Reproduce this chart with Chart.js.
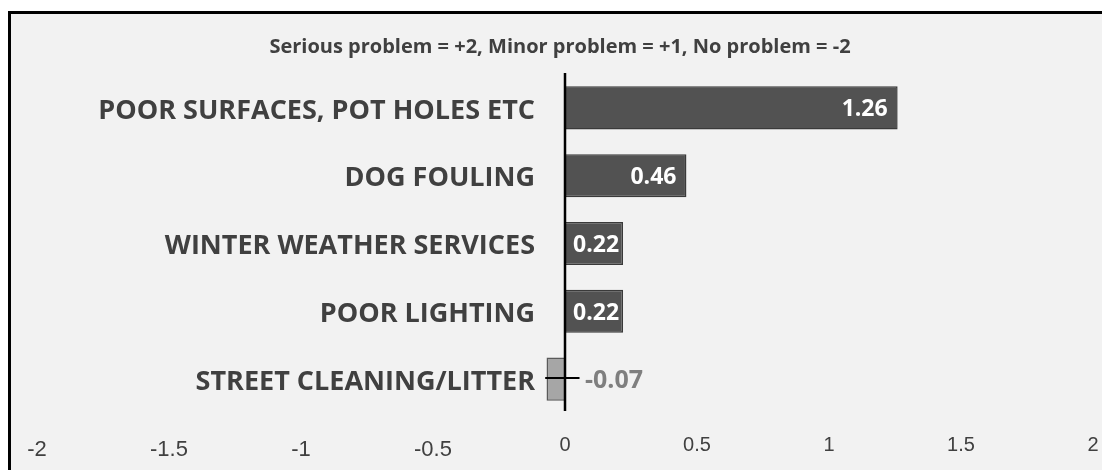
<!DOCTYPE html>
<html lang="en">
<head>
  <meta charset="UTF-8" />
  <title>Problem scores</title>
  <script src="https://cdn.jsdelivr.net/npm/chart.js"></script>
  <style>
    html, body {
      margin: 0;
      background: #ffffff;
      overflow: hidden;
    }
    canvas {
      display: block;
    }
  </style>
</head>
<body>
  <canvas id="chart" width="1102" height="470"></canvas>

  <script>
    const titleText = "Serious problem = +2, Minor problem = +1, No problem = -2";
    const categories = [
      "POOR SURFACES, POT HOLES ETC",
      "DOG FOULING",
      "WINTER WEATHER SERVICES",
      "POOR LIGHTING",
      "STREET CLEANING/LITTER"
    ];
    const scores = [1.26, 0.46, 0.22, 0.22, -0.07];
    // little whisker that sits on the last bar
    const whiskerLow = [null, null, null, null, -0.075];
    const whiskerHigh = [null, null, null, null, 0.055];
    const tickValues = [-2, -1.5, -1, -0.5, 0, 0.5, 1, 1.5, 2];

    const catFont = "bold 27px 'Open Sans', sans-serif";

    // grey panel with the black frame on the left and top
    const panel = {
      id: "panel",
      beforeDraw(chart) {
        const ctx = chart.ctx;
        ctx.save();
        ctx.fillStyle = "#ffffff";
        ctx.fillRect(0, 0, chart.width, chart.height);
        ctx.fillStyle = "#f2f2f2";
        ctx.fillRect(9, 12, chart.width, chart.height);
        ctx.strokeStyle = "#000";
        ctx.lineWidth = 3;
        ctx.beginPath();
        ctx.moveTo(9.5, chart.height + 5);
        ctx.lineTo(9.5, 12.5);
        ctx.lineTo(chart.width + 5, 12.5);
        ctx.stroke();
        ctx.restore();
      }
    };

    // draws title, category names, zero line, ticks, value labels
    const decor = {
      id: "decor",
      afterDatasetsDraw(chart) {
        const ctx = chart.ctx;
        const x = chart.scales.x;
        const y = chart.scales.y;
        const area = chart.chartArea;
        const x0 = x.getPixelForValue(0);
        ctx.save();

        // title
        ctx.fillStyle = "#404040";
        ctx.font = "bold 20px 'Open Sans', sans-serif";
        ctx.textAlign = "center";
        ctx.textBaseline = "middle";
        ctx.fillText(titleText, 560, 47);

        // category names left of the zero line
        ctx.font = catFont;
        ctx.textAlign = "right";
        categories.forEach((c, i) => {
          ctx.fillText(c, x0 - 30, y.getPixelForValue(i) + 3);
        });

        // whiskers
        ctx.strokeStyle = "#000";
        ctx.lineWidth = 2;
        whiskerLow.forEach((lo, i) => {
          if (lo === null) return;
          const yy = y.getPixelForValue(i) - 1;
          ctx.beginPath();
          ctx.moveTo(x.getPixelForValue(lo), yy);
          ctx.lineTo(x.getPixelForValue(whiskerHigh[i]), yy);
          ctx.stroke();
        });

        // zero line
        ctx.lineWidth = 2.5;
        ctx.beginPath();
        ctx.moveTo(x0, area.top - 1);
        ctx.lineTo(x0, area.bottom - 2);
        ctx.stroke();

        // value labels
        scores.forEach((v, i) => {
          const meta = chart.getDatasetMeta(0).data[i];
          const yy = meta.y + 2;
          const label = v.toFixed(2);
          if (v >= 0) {
            ctx.font = "bold 23px 'Open Sans', sans-serif";
            ctx.fillStyle = "#ffffff";
            const w = ctx.measureText(label).width;
            const barW = meta.x - x0;
            if (barW > w + 24) {
              ctx.textAlign = "right";
              ctx.fillText(label, meta.x - 10, yy);
            } else {
              ctx.textAlign = "center";
              ctx.fillText(label, (meta.x + x0) / 2 + 2, yy);
            }
          } else {
            ctx.font = "bold 25px 'Open Sans', sans-serif";
            ctx.fillStyle = "#7f7f7f";
            ctx.textAlign = "left";
            ctx.fillText(label, x0 + 20, yy);
          }
        });

        // x tick labels
        ctx.fillStyle = "#404040";
        ctx.textAlign = "center";
        tickValues.forEach(t => {
          const px = x.getPixelForValue(t);
          if (t < 0) {
            ctx.font = "22px 'Liberation Sans', Arial, sans-serif";
            ctx.fillText(String(t), px, 450);
          } else {
            ctx.font = "20px 'Liberation Sans', Arial, sans-serif";
            ctx.fillText(String(t), px, 445);
          }
        });

        ctx.restore();
      }
    };

    new Chart(document.getElementById("chart"), {
      type: "bar",
      data: {
        labels: categories,
        datasets: [{
          data: scores,
          backgroundColor: scores.map(v => v < 0 ? "#a6a6a6" : "#525252"),
          borderColor: scores.map(v => v < 0 ? "#5a5a5a" : "#3a3a3a"),
          borderWidth: 1.5,
          barPercentage: 0.635,
          categoryPercentage: 1
        }]
      },
      options: {
        indexAxis: "y",
        responsive: false,
        animation: false,
        layout: { padding: { left: 37, right: 9, top: 74, bottom: 57 } },
        plugins: {
          legend: { display: false },
          tooltip: { enabled: false },
          title: { display: false }
        },
        scales: {
          x: {
            display: false,
            min: -2,
            max: 2,
            ticks: { stepSize: 0.5 }
          },
          y: { display: false }
        }
      },
      plugins: [panel, decor]
    });
  </script>
</body>
</html>
